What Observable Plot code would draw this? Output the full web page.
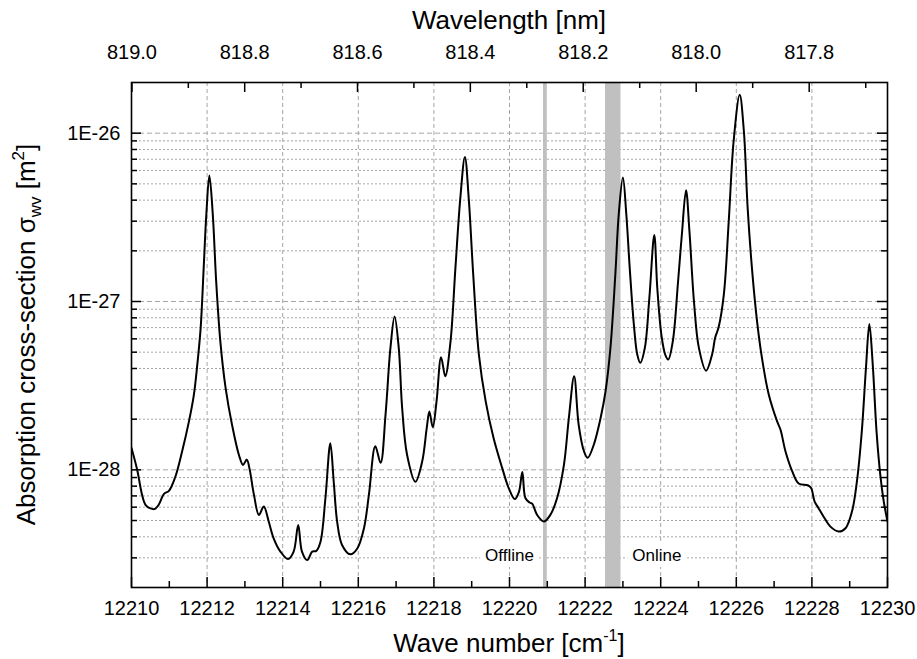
<!DOCTYPE html>
<html><head><meta charset="utf-8">
<script src="https://cdn.jsdelivr.net/npm/d3@7"></script>
<script src="https://cdn.jsdelivr.net/npm/@observablehq/plot@0.6"></script>
<style>body{margin:0;background:#fff} svg{display:block}</style>
</head><body><div id="chart"></div>
<script>
// ---- data ----
const waveNumber = [
12210.00,12210.15,12210.28,12210.37,12210.50,12210.62,12210.72,12210.86,12210.99,12211.16,
12211.34,12211.52,12211.65,12211.74,12211.83,12211.91,12211.98,12212.06,12212.15,12212.24,
12212.35,12212.49,12212.66,12212.84,12212.95,12213.05,12213.12,12213.24,12213.37,12213.50,
12213.63,12213.76,12213.94,12214.14,12214.29,12214.41,12214.51,12214.65,12214.78,12214.89,
12215.00,12215.13,12215.26,12215.35,12215.44,12215.57,12215.79,12215.97,12216.15,12216.28,
12216.45,12216.59,12216.72,12216.85,12216.96,12217.07,12217.16,12217.29,12217.51,12217.69,
12217.81,12217.88,12217.97,12218.07,12218.19,12218.30,12218.44,12218.57,12218.70,12218.82,
12218.92,12219.04,12219.19,12219.37,12219.58,12219.81,12219.98,12220.14,12220.25,12220.34,
12220.42,12220.53,12220.60,12220.73,12220.91,12221.08,12221.26,12221.44,12221.57,12221.71,
12221.83,12221.97,12222.07,12222.23,12222.41,12222.54,12222.67,12222.80,12222.89,12223.00,
12223.09,12223.18,12223.29,12223.38,12223.46,12223.58,12223.70,12223.83,12223.91,12224.02,
12224.12,12224.20,12224.32,12224.46,12224.56,12224.67,12224.76,12224.88,12225.01,12225.20,
12225.36,12225.44,12225.53,12225.67,12225.80,12225.93,12226.09,12226.20,12226.30,12226.42,
12226.55,12226.68,12226.86,12227.08,12227.17,12227.30,12227.48,12227.65,12227.89,12227.98,
12228.07,12228.18,12228.31,12228.49,12228.71,12228.89,12229.06,12229.19,12229.32,12229.43,
12229.52,12229.61,12229.71,12229.81,12229.90,12230.00
];
const sigma = [
1.35e-28,1.0e-28,7.1e-29,6.2e-29,5.9e-29,5.86e-29,6.2e-29,7.2e-29,7.5e-29,9.1e-29,
1.29e-28,1.94e-28,2.79e-28,4.2e-28,7.0e-28,1.59e-27,3.3e-27,5.6e-27,3.3e-27,1.32e-27,
5.8e-28,3.06e-28,1.85e-28,1.23e-28,1.07e-28,1.15e-28,1.02e-28,7.1e-29,5.4e-29,6.05e-29,
4.93e-29,3.92e-29,3.27e-29,2.95e-29,3.27e-29,4.71e-29,3.27e-29,2.91e-29,3.27e-29,3.3e-29,
3.74e-29,6.78e-29,1.44e-28,8.5e-29,4.93e-29,3.58e-29,3.15e-29,3.4e-29,4.5e-29,7.1e-29,
1.38e-28,1.1e-28,2.12e-28,5.3e-28,8.15e-28,5.3e-28,2.33e-28,1.23e-28,8.5e-29,1.12e-28,
1.77e-28,2.22e-28,1.79e-28,2.55e-28,4.67e-28,3.6e-28,5.8e-28,1.59e-27,4.14e-27,7.23e-27,
4.14e-27,1.45e-27,4.84e-28,2.55e-28,1.54e-28,1.02e-28,7.78e-29,6.7e-29,7.4e-29,9.7e-29,
6.8e-29,6.4e-29,6.3e-29,5.4e-29,4.93e-29,5.4e-29,6.8e-29,1.07e-28,2.03e-28,3.6e-28,
1.85e-28,1.29e-28,1.18e-28,1.41e-28,2.03e-28,2.92e-28,5.3e-28,1.45e-27,3.3e-27,5.45e-27,
3.3e-27,1.59e-27,7.3e-28,4.84e-28,4.32e-28,5.3e-28,1.05e-27,2.48e-27,1.2e-27,6.3e-28,
4.84e-28,4.52e-28,5.8e-28,1.32e-27,2.5e-27,4.58e-27,2.62e-27,1.0e-27,5.3e-28,3.88e-28,
4.84e-28,6.1e-28,7.0e-28,1.1e-27,3.0e-27,9.0e-27,1.69e-26,1.03e-26,3.6e-27,1.52e-27,
7.6e-28,4.6e-28,2.79e-28,1.94e-28,1.73e-28,1.29e-28,9.8e-29,8.3e-29,8.1e-29,7.8e-29,
6.5e-29,5.9e-29,5.27e-29,4.6e-29,4.3e-29,4.5e-29,5.65e-29,8.5e-29,1.69e-28,4.03e-28,
7.36e-28,4.2e-28,1.69e-28,9.3e-29,6.5e-29,4.93e-29
];
const xMajorTicks = [12210,12212,12214,12216,12218,12220,12222,12224,12226,12228,12230];
const xMinorTicks = [12211,12213,12215,12217,12219,12221,12223,12225,12227,12229];
const wlMajorTicks = [819.0,818.8,818.6,818.4,818.2,818.0,817.8];
const wlMinorTicks = [818.9,818.7,818.5,818.3,818.1,817.9,817.7];
const yMajorTicks = [1e-28,1e-27,1e-26];
const yMinorTicks = [3e-29,4e-29,5e-29,6e-29,7e-29,8e-29,9e-29,
  2e-28,3e-28,4e-28,5e-28,6e-28,7e-28,8e-28,9e-28,
  2e-27,3e-27,4e-27,5e-27,6e-27,7e-27,8e-27,9e-27];
const bandNames = ["Offline","Online"];
const bandStart = [12220.90, 12222.54];
const bandEnd = [12221.00, 12222.95];
const labelText = ["Offline","Online"];
const labelX = [12220.0, 12223.9];
const labelY = [3.1e-29, 3.1e-29];

// ---- build ----
const points = waveNumber.map((w,i)=>({wn:w, s:sigma[i]}));
const bands = bandNames.map((n,i)=>({name:n, x1:bandStart[i], x2:bandEnd[i]}));
const labels = labelText.map((t,i)=>({text:t, x:labelX[i], y:labelY[i]}));

const W = 917, H = 659, mL = 131, mR = 30, mT = 82, mB = 72;
const fw = W - mL - mR, fh = H - mT - mB;
const FONT = "'Liberation Sans', Arial, sans-serif";
const grid = "#a6a6a6";

const svg = Plot.plot({
  width: W, height: H,
  marginLeft: mL, marginRight: mR, marginTop: mT, marginBottom: mB,
  style: {fontFamily: FONT, color: "black", background: "white"},
  x: {domain: [12210, 12230]},
  y: {type: "log", domain: [2e-29, 2e-26]},
  marks: [
    Plot.ruleY(yMinorTicks, {stroke: grid, strokeDasharray: "2,2", strokeWidth: 1}),
    Plot.ruleY(yMajorTicks, {stroke: grid, strokeDasharray: "5,3", strokeWidth: 1}),
    Plot.ruleX(xMajorTicks.slice(1, -1), {stroke: grid, strokeDasharray: "4,3", strokeWidth: 1}),
    Plot.rect(bands, {x1: "x1", x2: "x2", fill: "#c0c0c0"}),
    Plot.text(labels, {x: "x", y: "y", text: "text", fontSize: 17, fill: "black",
      stroke: "white", strokeWidth: 12, paintOrder: "stroke"}),
    Plot.line(points, {x: "wn", y: "s", curve: "catmull-rom", stroke: "black", strokeWidth: 2, clip: true}),
    // inward ticks
    Plot.ruleX(xMajorTicks, {stroke: "black", strokeWidth: 1.5, insetTop: fh - 10}),
    Plot.ruleX(xMinorTicks, {stroke: "black", strokeWidth: 1.5, insetTop: fh - 6}),
    Plot.ruleX(wlMajorTicks, {x: d => 1e7 / d, stroke: "black", strokeWidth: 1.5, insetBottom: fh - 10}),
    Plot.ruleX(wlMinorTicks, {x: d => 1e7 / d, stroke: "black", strokeWidth: 1.5, insetBottom: fh - 6}),
    Plot.ruleY(yMajorTicks, {stroke: "black", strokeWidth: 1.5, insetRight: fw - 10}),
    Plot.ruleY(yMinorTicks, {stroke: "black", strokeWidth: 1.5, insetRight: fw - 6}),
    Plot.ruleY(yMajorTicks, {stroke: "black", strokeWidth: 1.5, insetLeft: fw - 10}),
    Plot.ruleY(yMinorTicks, {stroke: "black", strokeWidth: 1.5, insetLeft: fw - 6}),
    // axes labels
    Plot.axisX({anchor: "bottom", ticks: xMajorTicks, tickFormat: d => String(d), tickSize: 0,
      tickPadding: 13, fontSize: 20, label: null}),
    Plot.axisX({anchor: "top", ticks: wlMajorTicks.map(w => 1e7 / w), tickFormat: d => (1e7 / d).toFixed(1),
      tickSize: 0, tickPadding: 24, fontSize: 20, label: null}),
    Plot.axisY({anchor: "left", ticks: yMajorTicks, tickFormat: d => "1E" + Math.round(Math.log10(d)),
      tickSize: 0, tickPadding: 11, fontSize: 20, label: null}),
    Plot.frame({stroke: "black", strokeWidth: 1.6})
  ]
});

const s = d3.select(svg);
const cx = mL + fw / 2;
// top title
s.append("text").attr("x", cx).attr("y", 29).attr("text-anchor", "middle")
  .attr("font-size", 26).attr("font-family", FONT).attr("fill", "black").text("Wavelength [nm]");
// bottom title
const bt = s.append("text").attr("x", cx).attr("y", 652).attr("text-anchor", "middle")
  .attr("font-size", 26).attr("font-family", FONT).attr("fill", "black");
bt.append("tspan").text("Wave number [cm");
bt.append("tspan").attr("font-size", 16).attr("dy", -11).text("-1");
bt.append("tspan").attr("dy", 11).text("]");
// left title
const lt = s.append("text").attr("transform", `translate(35,${mT + fh / 2}) rotate(-90)`)
  .attr("text-anchor", "middle").attr("font-size", 26).attr("font-family", FONT).attr("fill", "black");
lt.append("tspan").text("Absorption cross-section σ");
lt.append("tspan").attr("font-size", 17).attr("dy", 6).text("wv");
lt.append("tspan").attr("dy", -6).text(" [m");
lt.append("tspan").attr("font-size", 17).attr("dy", -11).text("2");
lt.append("tspan").attr("dy", 11).text("]");

document.getElementById("chart").appendChild(svg);
</script>
</body></html>
